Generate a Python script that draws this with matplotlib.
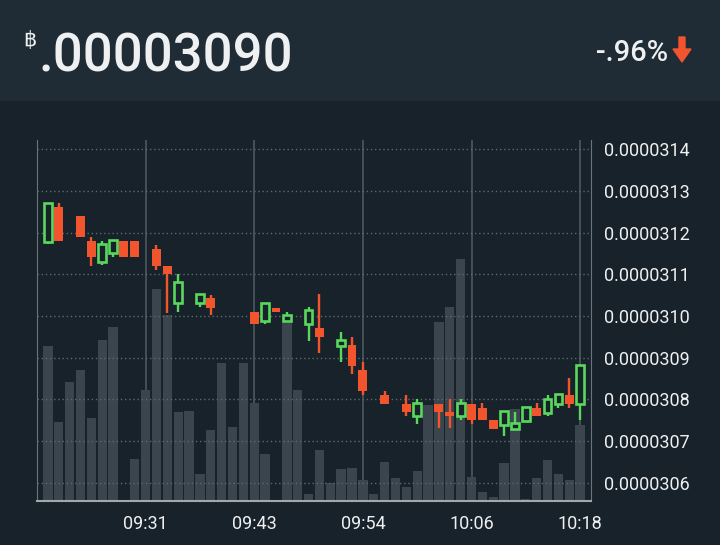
import numpy as np
import matplotlib
matplotlib.use('Agg')
import matplotlib.pyplot as plt
from matplotlib.patches import Rectangle, Polygon
from matplotlib.ticker import FuncFormatter

# prices are in units of 1e-7 BTC, nan = no candle for that slot
opens = [311.78, 312.62, np.nan, 312.40, 311.80, 311.30, 311.50, 311.80, 311.80, np.nan,
         311.61, 311.20, 310.30, np.nan, 310.31, 310.43, np.nan, np.nan, np.nan, 310.10,
         309.88, 310.19, 309.89, np.nan, 309.80, 309.71, np.nan, 309.29, 309.30, 308.70,
         np.nan, 308.10, np.nan, 307.89, 307.59, np.nan, 307.89, 307.70, 307.59, 307.89,
         307.79, 307.50, 307.39, 307.29, 307.49, 307.79, 307.68, 307.89, 308.10, 307.89]
highs = [312.72, 312.70, np.nan, 312.40, 311.90, 311.80, 311.82, 311.80, 311.80, np.nan,
         311.70, 311.20, 311.00, np.nan, 310.52, 310.50, np.nan, np.nan, np.nan, 310.10,
         310.32, 310.19, 310.10, np.nan, 310.21, 310.52, np.nan, 309.62, 309.50, 308.90,
         np.nan, 308.20, np.nan, 308.10, 308.01, np.nan, 307.89, 308.00, 308.01, 307.89,
         307.91, 307.50, 307.71, 307.70, 307.82, 307.91, 308.10, 308.12, 308.51, 308.82]
lows = [311.72, 311.80, np.nan, 311.90, 311.20, 311.21, 311.41, 311.42, 311.42, np.nan,
        311.10, 310.08, 310.10, np.nan, 310.21, 310.01, np.nan, np.nan, np.nan, 309.81,
        309.81, 310.10, 309.89, np.nan, 309.40, 309.11, np.nan, 308.90, 308.60, 308.10,
        np.nan, 307.89, np.nan, 307.60, 307.41, np.nan, 307.31, 307.30, 307.50, 307.41,
        307.51, 307.29, 307.11, 307.29, 307.49, 307.61, 307.61, 307.80, 307.80, 307.50]
closes = [312.72, 311.80, np.nan, 311.90, 311.42, 311.72, 311.82, 311.42, 311.42, np.nan,
          311.20, 311.01, 310.82, np.nan, 310.52, 310.20, np.nan, np.nan, np.nan, 309.81,
          310.32, 310.10, 310.02, np.nan, 310.13, 309.50, np.nan, 309.42, 308.80, 308.20,
          np.nan, 307.89, np.nan, 307.70, 307.92, np.nan, 307.70, 307.61, 307.92, 307.50,
          307.51, 307.29, 307.71, 307.43, 307.82, 307.61, 308.01, 308.12, 307.89, 308.82]
volumes = [155, 79, 119, 131, 83, 161, 174, 0, 42, 111,
           212, 186, 89, 90, 27, 71, 138, 74, 138, 98,
           47, 0, 178, 111, 7, 51, 18, 32, 33, 21,
           7, 39, 23, 14, 30, 96, 179, 194, 242, 24,
           9, 4, 38, 92, 2, 23, 41, 27, 21, 76]
time_labels = ['09:31', '09:43', '09:54', '10:06', '10:18']
time_index = [9, 19, 29, 39, 49]
last_price = '.00003090'
change_pct = '-.96%'

SCALE = 1e-7
BG = '#18222a'
HEAD = '#1f2c36'
GREEN = '#58d85c'
RED = '#f2542d'
VOLC = '#3a454d'
TXT = '#eef0f1'

plt.rcParams['font.family'] = ['Roboto', 'DejaVu Sans']

W, H = 720, 545
fig = plt.figure(figsize=(W / 100, H / 100), dpi=100, facecolor=BG)

# header band
fig.patches.append(Rectangle((0, 1 - 100 / H), 1, 100 / H, transform=fig.transFigure,
                             color=HEAD, zorder=0))
fig.text(23 / W, 1 - 46 / H, '฿', color=TXT, fontsize=15, va='baseline', ha='left')
fig.text(39 / W, 1 - 71 / H, last_price, color=TXT, fontsize=38, fontweight='medium',
         va='baseline', ha='left')
fig.text(668 / W, 1 - 61 / H, change_pct, color=TXT, fontsize=21, fontweight='medium',
         va='baseline', ha='right')
# down arrow
arrow = [(679, 37), (685, 37), (685, 49), (691, 49), (682, 62), (673, 49), (679, 49)]
fig.patches.append(Polygon([(x / W, 1 - y / H) for x, y in arrow], closed=True,
                           transform=fig.transFigure, color=RED, zorder=2))

left, right, top, bottom = 37, 591, 140, 501
ax_vol = fig.add_axes([left / W, 1 - bottom / H, (right - left) / W, (bottom - top) / H])
ax_vol.set_facecolor(BG)
ax = ax_vol.twinx()

x = np.arange(len(volumes))

# volume bars + vertical time lines behind them
for t in time_index:
    ax_vol.axvline(t, color='#4a535a', lw=1.3, zorder=1)
ax_vol.bar(x, volumes, width=0.86, color=VOLC, zorder=2)
ax_vol.set_ylim(0, 361)
ax_vol.set_yticks([])
ax_vol.set_xlim(-1, 50)
ax_vol.set_xticks(time_index)
ax_vol.set_xticklabels(time_labels)
ax_vol.tick_params(axis='x', length=0, pad=10, labelsize=13, labelcolor=TXT)

ax_vol.spines['top'].set_visible(False)
ax_vol.spines['left'].set_color('#6b747a')
ax_vol.spines['right'].set_color('#6b747a')
ax_vol.spines['bottom'].set_color('#a3a8ab')
ax_vol.spines['bottom'].set_linewidth(1.5)
for s in ax.spines.values():
    s.set_visible(False)

# candles
o = np.array(opens) * SCALE
h = np.array(highs) * SCALE
l = np.array(lows) * SCALE
c = np.array(closes) * SCALE
for i in x:
    if np.isnan(o[i]):
        continue
    up = c[i] >= o[i]
    col = GREEN if up else RED
    ax.vlines(i, l[i], h[i], color=col, lw=1.7, zorder=3)
    if up:
        ax.bar(i, c[i] - o[i], bottom=o[i], width=0.72, facecolor=BG, edgecolor=col,
               linewidth=1.9, zorder=4)
    else:
        ax.bar(i, o[i] - c[i], bottom=c[i], width=0.82, color=col, zorder=4)

ax.set_ylim(305.56 * SCALE, 314.22 * SCALE)
ax.set_xlim(-1, 50)
ax.set_yticks(np.arange(306, 315) * SCALE)
ax.yaxis.set_major_formatter(FuncFormatter(lambda v, p: f'{v:.7f}'))
ax.tick_params(axis='y', length=0, pad=9, labelsize=13, labelcolor=TXT)
ax.grid(axis='y', color='#5f686f', linestyle=(0, (1, 2)), lw=1)

fig.savefig('out.png', dpi=100, facecolor=BG)
